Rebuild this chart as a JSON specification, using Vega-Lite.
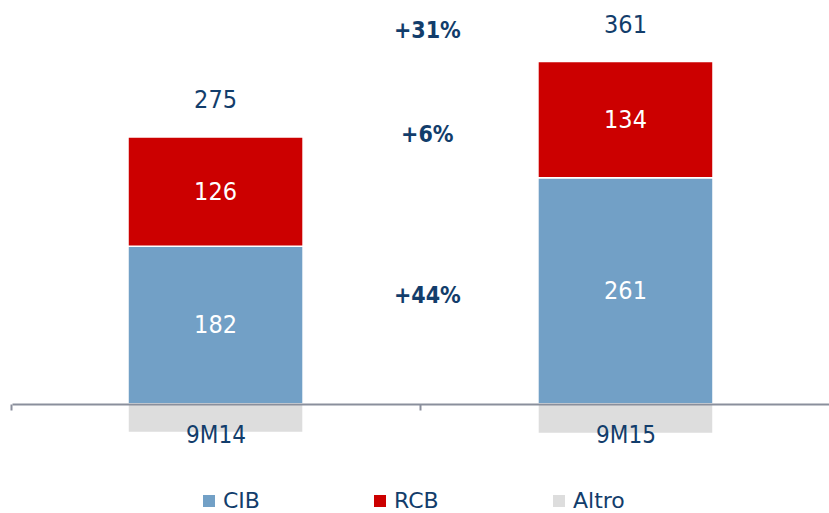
{
  "$schema": "https://vega.github.io/schema/vega-lite/v6.json",
  "width": 817,
  "height": 404,
  "autosize": {"type": "none"},
  "padding": {"left": 12, "top": 0, "right": 0, "bottom": 109},
  "background": "white",
  "config": {
    "view": {"stroke": null},
    "font": "DejaVu Sans Condensed",
    "text": {"font": "DejaVu Sans Condensed"}
  },
  "datasets": {
    "main": [
      {"period": "9M14", "segment": "CIB", "value": 182},
      {"period": "9M14", "segment": "RCB", "value": 126},
      {"period": "9M14", "segment": "Altro", "value": -33},
      {"period": "9M15", "segment": "CIB", "value": 261},
      {"period": "9M15", "segment": "RCB", "value": 134},
      {"period": "9M15", "segment": "Altro", "value": -34}
    ],
    "growth": [
      {"label": "+31%", "pos": 430},
      {"label": "+6%", "pos": 310},
      {"label": "+44%", "pos": 125}
    ]
  },
  "layer": [
    {
      "data": {"name": "main"},
      "mark": {"type": "bar", "stroke": "white", "strokeWidth": 1.5},
      "encoding": {
        "x": {
          "field": "period",
          "type": "nominal",
          "scale": {"paddingInner": 0.573, "paddingOuter": 0.283},
          "axis": {
            "title": null,
            "labelAngle": 0,
            "labelFontSize": 24,
            "labelColor": "#123D6B",
            "labelFont": "DejaVu Sans Condensed",
            "labelPadding": 13,
            "domainColor": "#8A8F9C",
            "domainWidth": 2,
            "tickColor": "#8A8F9C",
            "tickWidth": 2,
            "tickSize": 6,
            "tickOffset": -205,
            "labelOffset": 205,
            "zindex": 1
          }
        },
        "y": {
          "field": "value",
          "type": "quantitative",
          "stack": "zero",
          "scale": {"domain": [0, 466], "nice": false, "zero": false},
          "axis": null
        },
        "color": {
          "field": "segment",
          "type": "nominal",
          "scale": {"domain": ["CIB", "RCB", "Altro"], "range": ["#72A0C6", "#CC0000", "#DDDDDD"]},
          "legend": {
            "title": null,
            "orient": "none",
            "direction": "horizontal",
            "legendX": 186,
            "legendY": 490,
            "symbolType": "square",
            "symbolSize": 144,
            "symbolStrokeWidth": 0,
            "labelFontSize": 22,
            "labelColor": "#123D6B",
            "labelFont": "DejaVu Sans",
            "labelOffset": 3,
            "columnPadding": 109
          }
        },
        "order": {"field": "segment", "sort": "ascending"}
      }
    },
    {
      "data": {"name": "main"},
      "transform": [
        {"filter": "datum.segment !== 'Altro'"},
        {"stack": "value", "groupby": ["period"], "sort": [{"field": "segment", "order": "ascending"}], "as": ["v0", "v1"]},
        {"calculate": "(datum.v0 + datum.v1) / 2", "as": "mid"}
      ],
      "mark": {"type": "text", "fontSize": 25, "color": "white", "baseline": "middle"},
      "encoding": {
        "x": {"field": "period", "type": "nominal"},
        "y": {"field": "mid", "type": "quantitative"},
        "text": {"field": "value", "type": "quantitative"}
      }
    },
    {
      "data": {"name": "main"},
      "transform": [
        {"joinaggregate": [{"op": "sum", "field": "value", "as": "total"}], "groupby": ["period"]},
        {"filter": "datum.segment !== 'Altro'"},
        {"aggregate": [{"op": "sum", "field": "value", "as": "top"}, {"op": "max", "field": "total", "as": "total"}], "groupby": ["period"]}
      ],
      "mark": {"type": "text", "fontSize": 25, "color": "#123D6B", "baseline": "middle", "dy": -37},
      "encoding": {
        "x": {"field": "period", "type": "nominal"},
        "y": {"field": "top", "type": "quantitative"},
        "text": {"field": "total", "type": "quantitative"}
      }
    },
    {
      "data": {"name": "growth"},
      "mark": {"type": "text", "fontSize": 23, "fontWeight": "bold", "color": "#123D6B", "baseline": "middle"},
      "encoding": {
        "x": {"datum": "9M14", "type": "nominal", "bandPosition": 1.71},
        "y": {"field": "pos", "type": "quantitative"},
        "text": {"field": "label", "type": "nominal"}
      }
    }
  ]
}
